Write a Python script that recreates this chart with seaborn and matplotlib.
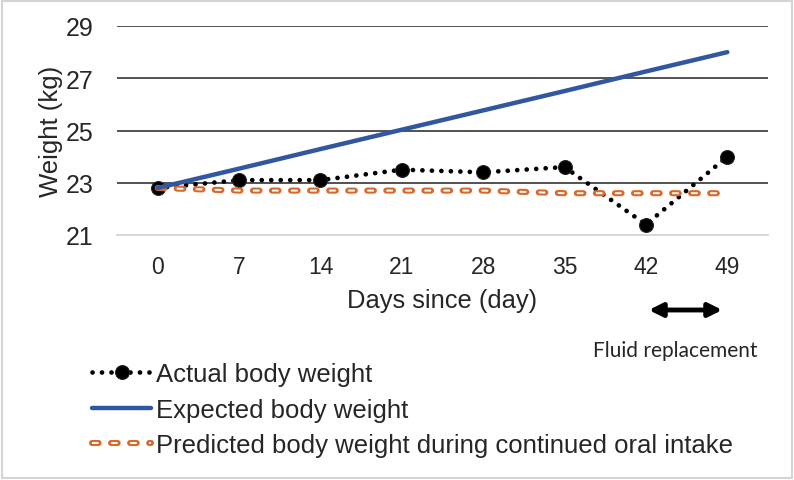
import matplotlib
matplotlib.use("Agg")
import matplotlib.pyplot as plt
import matplotlib.patheffects as pe
from matplotlib.patches import Rectangle, FancyArrowPatch
import seaborn as sns
import pandas as pd

days = [0, 7, 14, 21, 28, 35, 42, 49]
actual = [22.8, 23.1, 23.1, 23.5, 23.4, 23.6, 21.4, 24.0]
expected = [22.80, 23.54, 24.29, 25.03, 25.77, 26.51, 27.26, 28.00]
predicted = [22.8, 22.7, 22.7, 22.7, 22.7, 22.6, 22.6, 22.6]
labels = ["Actual body weight", "Expected body weight",
          "Predicted body weight during continued oral intake"]

df = pd.DataFrame({"day": days, "actual": actual,
                   "expected": expected, "predicted": predicted})

sns.set_style("white")
plt.rcParams['font.family'] = ['Liberation Sans', 'DejaVu Sans']

W, H = 794, 481
fig = plt.figure(figsize=(W / 100, H / 100), dpi=100)
ax = fig.add_axes([117 / W, 1 - 236 / H, (768 - 117) / W, (236 - 27) / H])

blue = "#3057a0"
orange = "#d9692a"

sns.lineplot(data=df, x="day", y="actual", ax=ax, color="black", lw=3.4,
             linestyle=(0, (0.01, 2.0)), dash_capstyle="round",
             marker="o", markersize=10, markeredgecolor="#222222",
             label=labels[0], zorder=2)
sns.lineplot(data=df, x="day", y="predicted", ax=ax, color="white", lw=1.4,
             linestyle=(0, (3.4, 6.4)), dash_capstyle="butt",
             label=labels[2], zorder=3)
ax.lines[-1].set_path_effects([
    pe.Stroke(linewidth=4.4, foreground=orange, capstyle="round"),
    pe.Normal()])
sns.lineplot(data=df, x="day", y="expected", ax=ax, color=blue, lw=3.2,
             label=labels[1], solid_capstyle="round", zorder=4)
if ax.get_legend():
    ax.get_legend().remove()

ax.set_xlim(-3.5, 52.5)
ax.set_ylim(21, 29)
ax.set_xticks(days)
ax.set_yticks([21, 23, 25, 27, 29])
for y in [23, 25, 27, 29]:
    ax.axhline(y, color="#222222", lw=1.1, zorder=1)
for s in ["top", "right", "left"]:
    ax.spines[s].set_visible(False)
ax.spines["bottom"].set_color("#d0d0d0")
ax.spines["bottom"].set_linewidth(1.2)
ax.tick_params(axis="y", length=0, pad=17, labelsize=18)
ax.tick_params(axis="x", length=0, pad=14.5, labelsize=16.5)
ax.set_xlabel("Days since (day)", fontsize=18.4, labelpad=7)
ax.set_ylabel("Weight (kg)", fontsize=18.5, labelpad=2)

handles, labs = ax.get_legend_handles_labels()
order = [labs.index(l) for l in labels]
fig.legend([handles[i] for i in order], labels, loc="upper left",
           bbox_to_anchor=(69 / W, 1 - 340 / H), frameon=False,
           fontsize=18.5, handlelength=2.3, handletextpad=0.2,
           labelspacing=0.45, numpoints=1)

arrow = FancyArrowPatch((646 / W, 1 - 311 / H), (725 / W, 1 - 311 / H),
                        transform=fig.transFigure, arrowstyle="<|-|>",
                        mutation_scale=20, lw=3.5, color="black")
fig.patches.append(arrow)
fig.text(675 / W, 1 - 351 / H, "Fluid replacement", family=["Lato", "DejaVu Sans"],
         fontsize=15, ha="center", va="center")

fig.patches.append(Rectangle((2 / W, 2 / H), 1 - 4 / W, 1 - 4 / H,
                             transform=fig.transFigure, fill=False,
                             edgecolor="#d4d4d4", lw=1.5))

fig.savefig("out.png", dpi=100)
